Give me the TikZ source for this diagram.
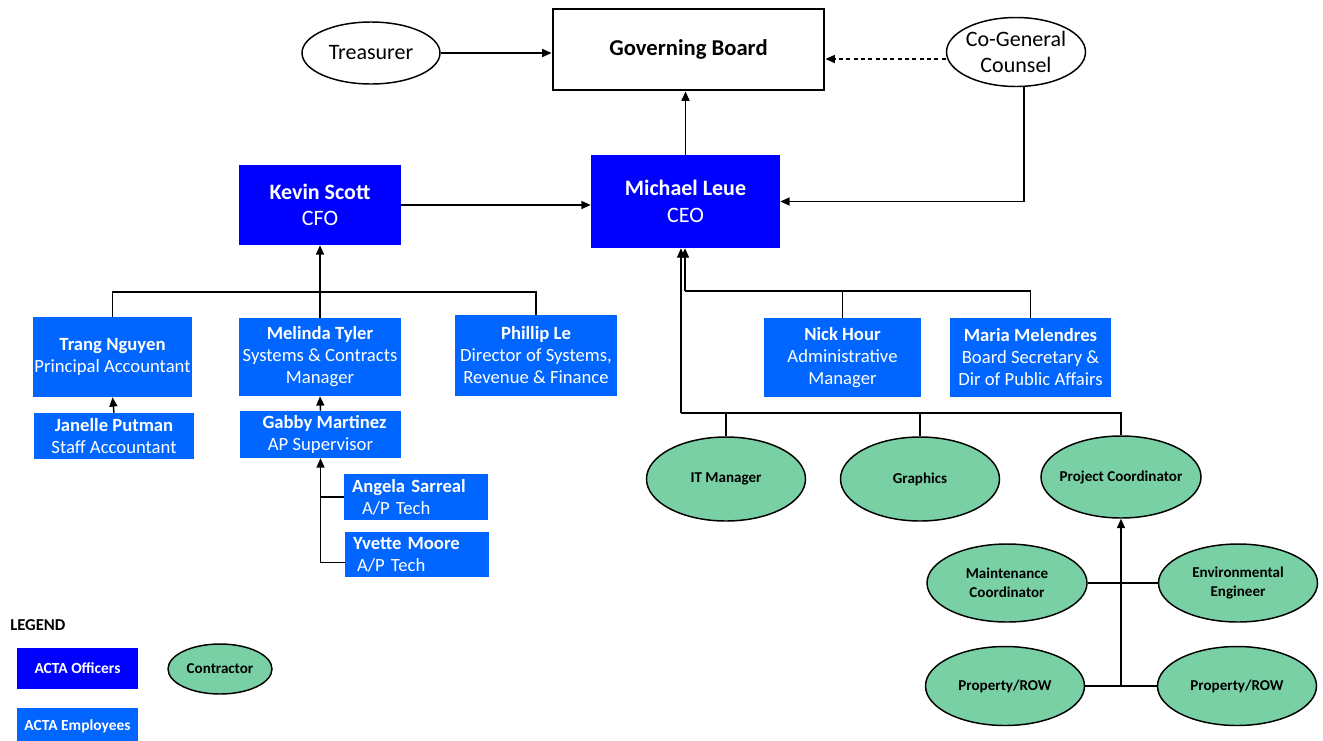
\documentclass[tikz,border=0pt]{standalone}
\usepackage{fontspec}
\setmainfont{Carlito}
\usetikzlibrary{arrows.meta,shapes.geometric}
\definecolor{officer}{RGB}{0,0,255}
\definecolor{employee}{RGB}{0,102,255}
\definecolor{contr}{RGB}{120,208,164}
\begin{document}
\begin{tikzpicture}[x=0.75pt,y=-0.75pt,
  officerbox/.style={rectangle, fill=officer, text=white, inner sep=0pt, align=center, font=\fontsize{16.5}{20}\selectfont},
  empbox/.style={rectangle, fill=employee, text=white, inner sep=0pt, align=center, font=\fontsize{14}{16.5}\selectfont},
  contractor/.style={ellipse, draw, fill=contr, line width=1.1pt, inner sep=0pt, align=center, font=\fontsize{11.3}{14}\selectfont\bfseries},
  whiteell/.style={ellipse, draw, fill=white, line width=1.1pt, inner sep=0pt, align=center, font=\fontsize{16.5}{20}\selectfont},
  conn/.style={line width=1.1pt},
  arr/.style={conn, -{Triangle[length=7pt,width=6pt]}}]
\useasboundingbox (0,0) rectangle (1323,740);

% top level
\node[rectangle, draw, line width=2.2pt, inner sep=0pt, minimum width=203.25pt, minimum height=60.75pt, font=\fontsize{17}{20}\selectfont\bfseries] (gb) at (688.5,49.5) {Governing Board};
\node[whiteell, minimum width=103.5pt, minimum height=46.5pt] (treas) at (371,53) {Treasurer};
\node[whiteell, minimum width=104.25pt, minimum height=51.75pt, inner xsep=-6pt] (cogen) at (1016,52) {Co-General\\Counsel};

\node[officerbox, minimum width=141.75pt, minimum height=69.75pt] (ceo) at (685.5,201.5) {\textbf{Michael Leue}\\CEO};
\node[officerbox, minimum width=121.5pt, minimum height=60pt] (cfo) at (320,205) {\textbf{Kevin Scott}\\CFO};

% CFO branch
\node[empbox, minimum width=119.25pt, minimum height=60pt] (trang) at (112.5,357) {\textbf{Trang Nguyen}\\Principal Accountant};
\node[empbox, minimum width=121.5pt, minimum height=58.5pt] (mel) at (320,357) {\textbf{Melinda Tyler}\\Systems \& Contracts\\Manager};
\node[empbox, minimum width=121.5pt, minimum height=60.75pt] (phil) at (536,355.5) {\textbf{Phillip Le}\\Director of Systems,\\Revenue \& Finance};
\node[empbox, minimum width=120pt, minimum height=34.5pt] (jan) at (114,436) {\textbf{Janelle Putman}\\Staff Accountant};
\node[empbox, minimum width=120.75pt, minimum height=35.25pt] (gab) at (320.5,434.5) {\textbf{\hspace*{6pt}Gabby Martinez}\\AP Supervisor};
\node[empbox, minimum width=108pt, minimum height=34.5pt, text width=96pt, align=left] (ang) at (416,497) {\textbf{Angela Sarreal}\\\hspace*{7.5pt}A/P Tech};
\node[empbox, minimum width=108pt, minimum height=33.75pt, text width=96pt, align=left] (yv) at (417,554.5) {\textbf{Yvette Moore}\\\hspace*{3pt}A/P Tech};

% CEO branch
\node[empbox, minimum width=117.75pt, minimum height=59.25pt] (nick) at (842.5,357.5) {\textbf{Nick Hour}\\Administrative\\Manager};
\node[empbox, minimum width=120.75pt, minimum height=59.25pt] (maria) at (1030.5,357.5) {\textbf{Maria Melendres}\\Board Secretary \&\\Dir of Public Affairs};

\node[contractor, minimum width=119.25pt, minimum height=63pt] (itm) at (726,479) {IT Manager};
\node[contractor, minimum width=119.25pt, minimum height=63pt] (gra) at (920,479) {Graphics};
\node[contractor, minimum width=120pt, minimum height=61.5pt, inner xsep=-16pt] (proj) at (1121,477) {Project Coordinator};
\node[contractor, minimum width=120pt, minimum height=58.5pt] (maint) at (1007,583) {Maintenance\\Coordinator};
\node[contractor, minimum width=119.25pt, minimum height=58.5pt] (env) at (1238,583) {Environmental\\Engineer};
\node[contractor, minimum width=119.25pt, minimum height=59.25pt] (prop1) at (1005,686) {Property/ROW};
\node[contractor, minimum width=119.25pt, minimum height=59.25pt] (prop2) at (1237,686) {Property/ROW};

% legend
\node[anchor=west, inner sep=0pt, font=\fontsize{12.5}{14}\selectfont\bfseries] (leg) at (10,625) {LEGEND};
\node[officerbox, minimum width=90.75pt, minimum height=30.75pt, font=\fontsize{11.6}{14}\selectfont\bfseries] (lgo) at (77.5,668.5) {ACTA Officers};
\node[empbox, minimum width=90.75pt, minimum height=27pt, font=\fontsize{11.6}{14}\selectfont\bfseries] (lge) at (77.5,726) {ACTA Employees};
\node[contractor, minimum width=78pt, minimum height=37.5pt, inner xsep=-6pt] (lgc) at (220,669) {Contractor};

% connectors top
\draw[arr] (treas.east) -- (gb.west |- treas.east);
\coordinate (d) at ([yshift=-5.25pt]cogen.west);
\draw[arr, dash pattern=on 3pt off 2.5pt] (d) -- (gb.east |- d);
\coordinate (c1) at ([xshift=6pt]cogen.south);
\draw[arr] (c1) |- (ceo.east);
\draw[arr] (ceo.north) -- (ceo.north |- gb.south);
\draw[arr] (cfo.east) -- (ceo.west |- cfo.east);

% CFO tree
\draw[arr] (mel.north) -- (cfo.south);
\coordinate (busA) at (320,292);
\draw[conn] (trang.north) |- (busA) -| (phil.north);
\draw[arr] (jan.north) -- (trang.south);
\draw[arr] (gab.north) -- (mel.south);
\coordinate (yl) at ([yshift=-6pt]yv.west);
\draw[arr] (yl) -| (gab.south);
\draw[conn] (ang.west) -- (ang.west -| gab.south);

% CEO tree
\coordinate (busB) at (685,291);
\draw[conn] (maria.north) |- (busB);
\draw[conn] (nick.north) -- (nick.north |- busB);
\draw[arr] (busB) -- (busB |- ceo.south);
\coordinate (busC) at (681,413);
\draw[arr] (busC) -- (busC |- ceo.south);
\draw[conn] (busC) -| (proj.north);
\draw[conn] (itm.north) -- (itm.north |- busC);
\draw[conn] (gra.north) -- (gra.north |- busC);

% project coordinator group
\draw[arr] (prop1.east) -| (proj.south);
\draw[conn] (prop2.west) -- (prop2.west -| proj.south);
\draw[conn] (maint.east) -- (env.west);
\end{tikzpicture}
\end{document}
